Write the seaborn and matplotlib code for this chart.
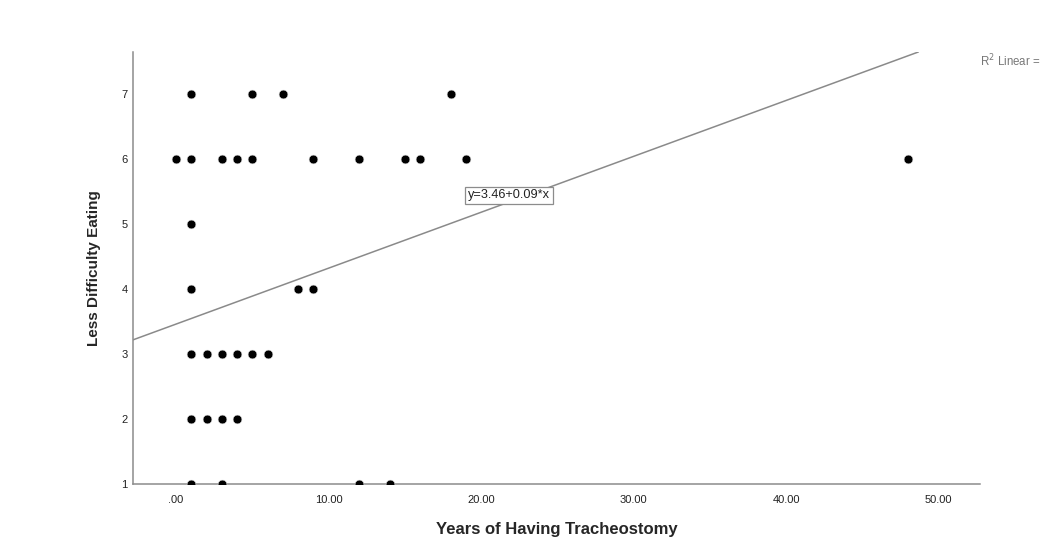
import matplotlib
matplotlib.use("Agg")
import matplotlib.pyplot as plt
import seaborn as sns
import pandas as pd
import numpy as np

sns.set_theme(style="white")
plt.rcParams['font.family'] = ['Liberation Sans', 'DejaVu Sans']

# Data
years = [1, 5, 7, 18,
         0, 1, 3, 4, 5, 9, 12, 15, 16, 19, 48,
         1,
         1, 8, 9,
         1, 2, 3, 4, 5, 6,
         1, 2, 3, 4,
         1, 3, 12, 14]
eating = [7, 7, 7, 7,
          6, 6, 6, 6, 6, 6, 6, 6, 6, 6, 6,
          5,
          4, 4, 4,
          3, 3, 3, 3, 3, 3,
          2, 2, 2, 2,
          1, 1, 1, 1]
fit_intercept = 3.46
fit_slope = 0.086
fit_label = "y=3.46+0.09*x"
r2_label = "R$^2$ Linear ="
x_ticks = [0, 10, 20, 30, 40, 50]
x_ticklabels = [".00", "10.00", "20.00", "30.00", "40.00", "50.00"]
y_ticks = [1, 2, 3, 4, 5, 6, 7]

df = pd.DataFrame({"Years of Having Tracheostomy": years,
                   "Less Difficulty Eating": eating})

fig = plt.figure(figsize=(10.53, 5.39), dpi=100)
ax = fig.add_axes([133/1053, 1 - 484/539, (980-133)/1053, (484-52)/539])

sns.scatterplot(data=df, x="Years of Having Tracheostomy", y="Less Difficulty Eating",
                ax=ax, color="black", s=40, edgecolor="#dddddd", linewidth=0.4, zorder=3)

ax.axline((0, fit_intercept), slope=fit_slope, color="#8a8a8a", lw=1.1, zorder=2)

ax.set_xlim(-2.82, 52.72)
ax.set_ylim(1.0, 7.646)
ax.set_xticks(x_ticks)
ax.set_xticklabels(x_ticklabels)
ax.set_yticks(y_ticks)
ax.tick_params(axis="x", length=0, labelsize=8, colors="#222222", pad=8)
ax.tick_params(axis="y", length=0, labelsize=8, colors="#222222", pad=4)

for side in ["top", "right"]:
    ax.spines[side].set_visible(False)
for side in ["left", "bottom"]:
    ax.spines[side].set_color("#8c8c8c")
    ax.spines[side].set_linewidth(1.1)

ax.set_xlabel("Years of Having Tracheostomy", fontsize=12, fontweight="bold", labelpad=12)
ax.set_ylabel("Less Difficulty Eating", fontsize=11, fontweight="bold", labelpad=22)
ax.yaxis.set_label_coords((101 - 133) / (980 - 133), 0.5)

ax.text(21.84, 5.44, fit_label, fontsize=9.2, ha="center", va="center", color="#222222",
        zorder=4, bbox=dict(boxstyle="square,pad=0.22", fc="white", ec="#8c8c8c", lw=0.9))

fig.text(980/1053, 1 - 61/539, r2_label, fontsize=8.3, color="#777777", ha="left", va="center")

fig.savefig("out.png", dpi=100)
